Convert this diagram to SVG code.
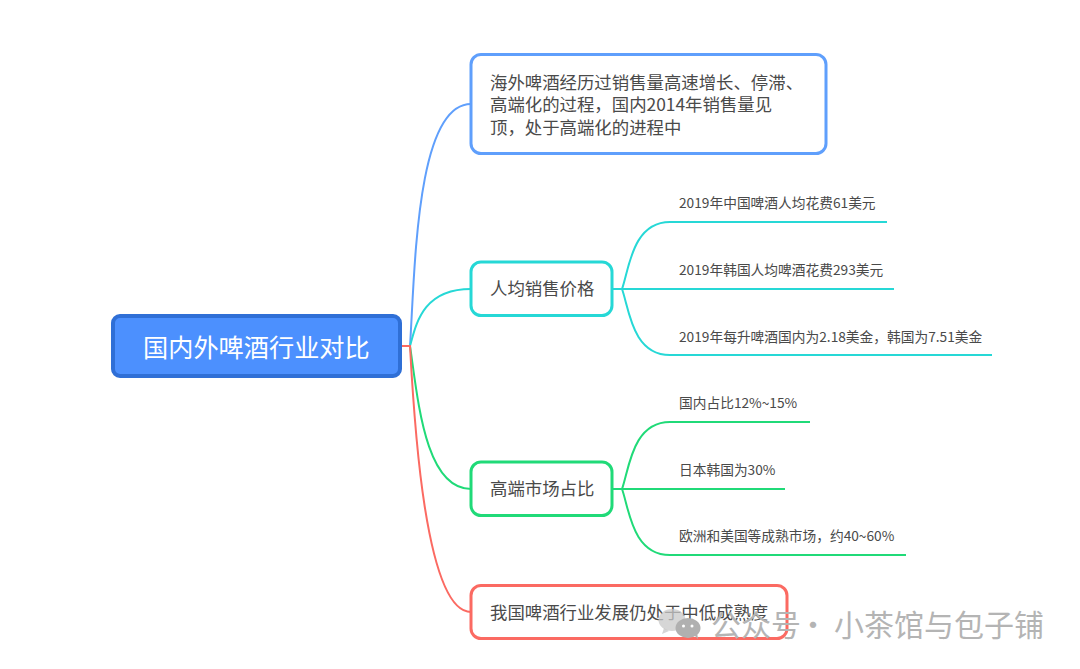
<svg xmlns="http://www.w3.org/2000/svg" width="1080" height="669" viewBox="0 0 1080 669">
<style>
text{font-family:"Noto Sans CJK SC","Noto Sans",sans-serif;fill:#4a4a4a}
.t{font-size:17.4px}
.l{font-size:13.72px}
.c{fill:none;stroke-width:2}
.b{fill:#fff;stroke-width:3}
.wm{font-size:30px;fill:#b4b4b4}
</style>
<rect width="1080" height="669" fill="#fff"/>
<g id="connectors">
<path class="c" stroke="#5f9ffc" d="M410 346C415 270 416 104 471 104"/>
<path class="c" stroke="#26d8d6" d="M410 346C416 325 422 289 471 289"/>
<path class="c" stroke="#20da78" d="M410 346C418 400 425 489 471 489"/>
<path class="c" stroke="#fb6a62" d="M401 346H410C414 420 425 612 471 612"/>
<path class="c" stroke="#26d8d6" d="M612 289H622C629 270 632 222 670 222H887"/>
<path class="c" stroke="#26d8d6" d="M612 289H894"/>
<path class="c" stroke="#26d8d6" d="M612 289H622C629 308 632 355 670 355H992"/>
<path class="c" stroke="#20da78" d="M612 489H622C629 470 632 422 670 422H810"/>
<path class="c" stroke="#20da78" d="M612 489H785"/>
<path class="c" stroke="#20da78" d="M612 489H622C629 508 632 555 670 555H906"/>
</g>
<g id="root"><rect x="113" y="316" width="287" height="60" rx="7" fill="#4c90fe" stroke="#2f6fd6" stroke-width="4"/><text x="143" y="357" font-size="25.200" style="fill:#fff">国内外啤酒行业对比</text></g>
<g id="n1"><rect class="b" x="471" y="54.500" width="355" height="99" rx="10" stroke="#5f9ffc"/><text class="t" x="490" y="88.500">海外啤酒经历过销售量高速增长、停滞、</text><text class="t" x="490" y="111">高端化的过程，国内2014年销售量见</text><text class="t" x="490" y="134">顶，处于高端化的进程中</text></g>
<g id="n2"><rect class="b" x="471" y="262" width="141" height="53.500" rx="10" stroke="#26d8d6"/><text class="t" x="490" y="295">人均销售价格</text></g>
<g id="n3"><rect class="b" x="471" y="462" width="141" height="53.500" rx="10" stroke="#20da78"/><text class="t" x="490" y="495">高端市场占比</text></g>
<g id="n4"><rect class="b" x="471" y="585.500" width="316" height="53" rx="10" stroke="#fb6a62"/><text class="t" x="490" y="619">我国啤酒行业发展仍处于中低成熟度</text></g>
<g id="leaf1"><text class="l" x="679" y="208">2019年中国啤酒人均花费61美元</text></g>
<g id="leaf2"><text class="l" x="679" y="275">2019年韩国人均啤酒花费293美元</text></g>
<g id="leaf3"><text class="l" x="679" y="342">2019年每升啤酒国内为2.18美金，韩国为7.51美金</text></g>
<g id="leaf4"><text class="l" x="679" y="408">国内占比12%~15%</text></g>
<g id="leaf5"><text class="l" x="679" y="475">日本韩国为30%</text></g>
<g id="leaf6"><text class="l" x="679" y="541">欧洲和美国等成熟市场，约40~60%</text></g>
<g id="watermark">
<ellipse cx="672" cy="620" rx="13.500" ry="11" fill="#c8c8c8" opacity=".75"/>
<path d="M664 628l-2 6 7-3z" fill="#c8c8c8" opacity=".75"/>
<ellipse cx="688" cy="628" rx="12.500" ry="10" fill="#b0b0b0"/>
<path d="M694 635l4 4-1-7z" fill="#b0b0b0"/>
<circle cx="683.500" cy="626" r="1.500" fill="#fff"/><circle cx="692" cy="626" r="1.500" fill="#fff"/>
<text class="wm" y="636"><tspan x="711">公众号 </tspan><tspan x="798">· </tspan><tspan x="834">小茶馆与包子铺</tspan></text>
</g>
</svg>
